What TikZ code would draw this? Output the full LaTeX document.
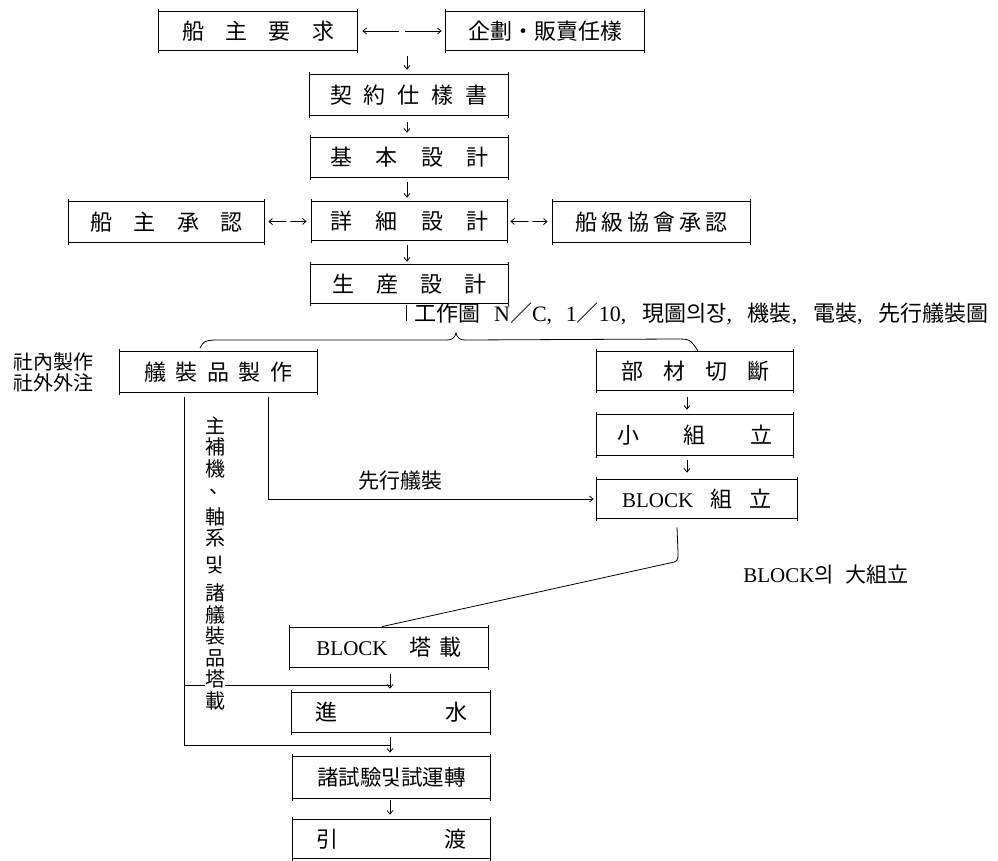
\documentclass[tikz,border=0pt]{standalone}
\usepackage{fontspec}
\setmainfont{Liberation Serif}
\newfontfamily\cjk{Noto Sans CJK KR}
\usetikzlibrary{arrows.meta}
\newcommand\flowbox[6]{%
  \node[bx, minimum width={(#4-#2)*1pt}, minimum height={(#5-#3)*1pt}] (#1) at ({(#2+#4)/2},{(#3+#5)/2}) {#6};
  \draw ([yshift=2.5pt]#1.north west) -- ([yshift=-2.5pt]#1.south west);
  \draw ([yshift=2.5pt]#1.north east) -- ([yshift=-2.5pt]#1.south east);
  \draw (#1.north west) -- (#1.north east);
  \draw (#1.south west) -- (#1.south east);
}
\begin{document}
\begin{tikzpicture}[x=1pt,y=-1pt,line width=0.8pt,
  bx/.style={inner sep=0pt, font=\cjk\fontsize{22}{26}\selectfont},
  lbl/.style={inner sep=0pt, font=\cjk\fontsize{21}{24}\selectfont},
  arr/.style={-{Straight Barb[length=3.5pt,width=6pt]}},
  darr/.style={{Straight Barb[length=3.5pt,width=6pt]}-{Straight Barb[length=3.5pt,width=6pt]}}]
\fill[white] (0,0) rectangle (998,860);
\useasboundingbox (0,0) rectangle (998,860);

% boxes
\flowbox{owner}{159}{12}{357}{50}{\makebox[152pt][s]{船 主 要 求}}
\flowbox{plan}{446}{12}{644}{50}{\fontsize{22}{26}\selectfont 企劃・販賣任樣}
\flowbox{contract}{310}{75}{508}{115}{\makebox[158pt][s]{契 約 仕 樣 書}}
\flowbox{basic}{311}{138}{508}{177}{\makebox[158pt][s]{基 本 設 計}}
\flowbox{detail}{312}{202}{507}{240}{\makebox[158pt][s]{詳 細 設 計}}
\flowbox{ownapp}{69}{202}{264}{242}{\makebox[152pt][s]{船 主 承 認}}
\flowbox{classapp}{553}{202}{750}{242}{\makebox[152pt][s]{船 級 協 會 承 認}}
\flowbox{prod}{311}{265}{508}{303}{\makebox[155pt][s]{生 産 設 計}}
\flowbox{outfit}{120}{352}{317}{392}{\makebox[148pt][s]{艤 裝 品 製 作}}
\flowbox{cut}{597}{352}{793}{390}{\makebox[148pt][s]{部 材 切 斷}}
\flowbox{small}{597}{415}{793}{455}{\makebox[156pt][s]{小 組 立}}
\flowbox{blockasm}{597}{480}{797}{518}{\makebox[150pt][s]{{\rmfamily\fontsize{21}{24}\selectfont BLOCK} 組 立}}
\flowbox{erect}{290}{628}{488}{667}{{\rmfamily\fontsize{21}{24}\selectfont BLOCK}\hspace{22pt}塔\hspace{8pt}載}
\flowbox{launch}{292}{693}{490}{732}{\makebox[152pt][s]{進 水}}
\flowbox{trials}{293}{757}{490}{798}{\fontsize{21.5}{24}\selectfont 諸試驗및試運轉}
\flowbox{deliv}{293}{820}{490}{858}{\makebox[150pt][s]{引 渡}}

% top connectors
\draw[darr, dash pattern=on 36pt off 6pt on 60pt, shorten <=5pt, shorten >=4pt] (owner) -- (plan);
\coordinate (split) at (407,56);
\draw[arr, shorten >=5pt] (split) -- (split |- contract.north);
\draw[arr, shorten <=7pt, shorten >=5pt] (contract.south -| split) -- (basic.north -| split);
\draw[arr, shorten <=5pt, shorten >=4pt] (basic.south -| split) -- (detail.north -| split);
\draw[arr, shorten <=5pt, shorten >=3pt] (detail.south -| split) -- (prod.north -| split);
\draw[darr, dash pattern=on 17pt off 4pt on 40pt, shorten <=4pt, shorten >=5pt] (ownapp) -- (detail);
\draw[darr, dash pattern=on 17pt off 4pt on 40pt, shorten <=3pt, shorten >=5pt] (detail) -- (classapp);

% production drawings
\coordinate (barend) at (406,321);
\draw ([yshift=-2pt]prod.south -| barend) -- (barend);
\node[anchor=west, inner sep=0pt, font=\fontsize{22}{25}\selectfont] (drawings) at (414,314)
  {\makebox[574pt][s]{{\cjk 工作圖} N{\cjk ／}C, 1{\cjk ／}10, {\cjk 現圖의장}, {\cjk 機裝}, {\cjk 電裝}, {\cjk 先行艤裝圖}}};

% brace
\draw (200,348) .. controls (204,341) .. (214,340) -- (447,340)
  .. controls (453,340) and (455,337) .. (456,333)
  .. controls (457,337) and (459,340) .. (465,340) -- (676,339)
  .. controls (690,339) .. (698,351);

% left labels
\node[align=center, inner sep=0pt, font=\cjk\fontsize{20}{21}\selectfont] (inout) at (53,372) {社內製作\\社外外注};

% pre-outfitting line
\draw[arr, shorten >=3pt] ([xshift=49.5pt,yshift=-5pt]outfit.south) |- (blockasm.west);
\node[lbl] (pre) at (400,481) {先行艤裝};

% right column arrows
\coordinate (rc) at (687,0);
\draw[arr, shorten <=7pt, shorten >=5pt] (cut.south -| rc) -- (small.north -| rc);
\draw[arr, shorten <=5pt, shorten >=7pt] (small.south -| rc) -- (blockasm.north -| rc);

% big assembly curve
\draw ([xshift=-20pt,yshift=-9pt]blockasm.south) -- ([xshift=-19pt,yshift=-34pt]blockasm.south)
  .. controls ([xshift=-19pt,yshift=-43pt]blockasm.south) .. ([xshift=-29pt,yshift=-45pt]blockasm.south)
  -- ([xshift=-7pt,yshift=1pt]erect.north);
\node[inner sep=0pt, font=\fontsize{21}{24}\selectfont] (bigasm) at (826,575) {BLOCK{\cjk 의}\hspace{12pt}{\cjk 大組立}};

% lower column arrows
\coordinate (j1) at (390,685);
\coordinate (j2) at (390,745);
\coordinate (bx) at (184,0);
\draw[arr, shorten <=7pt, shorten >=4pt] (erect.south -| j1) -- (launch.north -| j1);
\draw[arr, shorten <=5pt, shorten >=4pt] (launch.south -| j1) -- (trials.north -| j1);
\draw[arr, shorten <=2pt, shorten >=5pt] (trials.south -| j1) -- (deliv.north -| j1);

% main machinery line
\draw ([xshift=-34.5pt,yshift=-5pt]outfit.south) |- (j2);
\draw (j1 -| bx) -- (j1);
\node[fill=white, inner sep=0pt, anchor=north, align=center, font=\cjk\fontsize{20}{21.5}\selectfont] (load) at (215,416)
  {主\\補\\機\\\makebox[20pt]{\hspace{8pt}\raisebox{4pt}{、}\hfill}\\[5pt]軸\\系\\[5pt]및\\[7pt]諸\\艤\\裝\\品\\塔\\載};
\end{tikzpicture}
\end{document}
